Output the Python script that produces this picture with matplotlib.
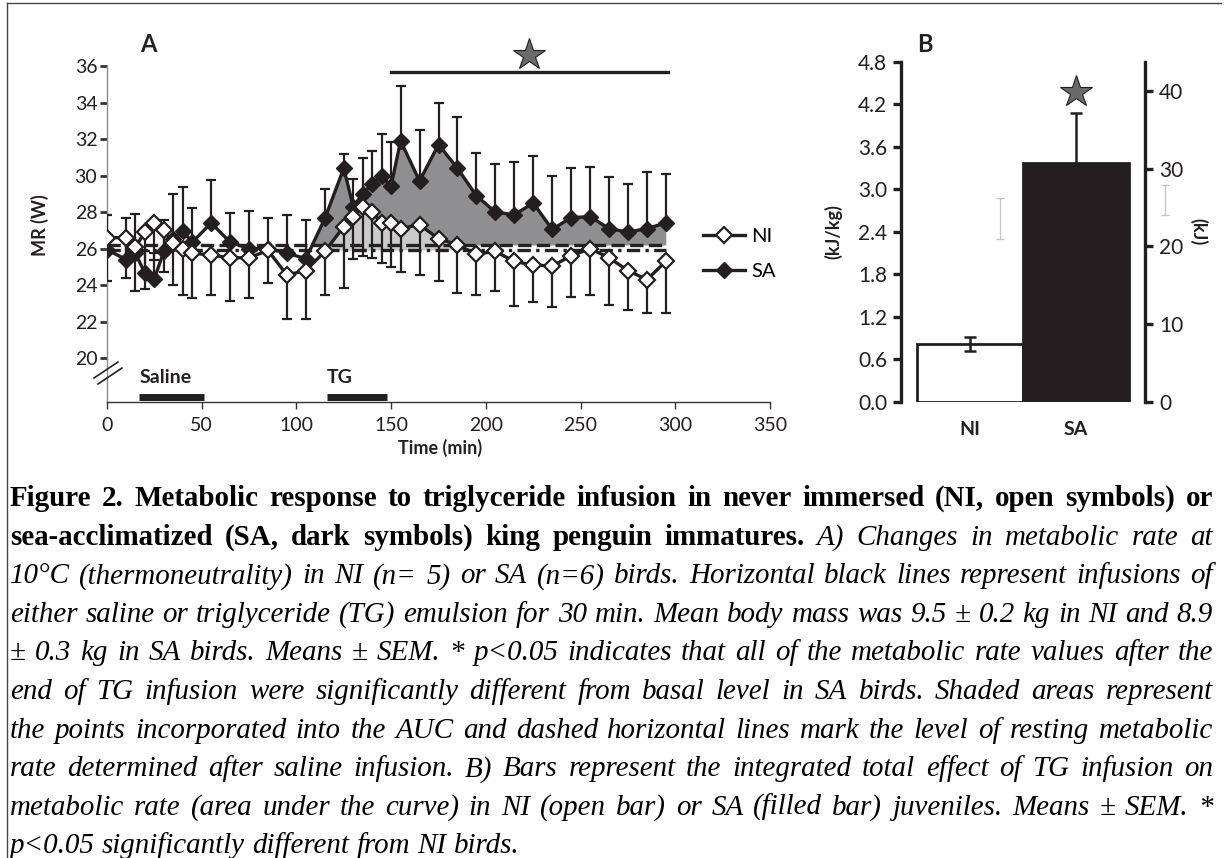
import matplotlib
matplotlib.use('Agg')
import matplotlib.pyplot as plt
import numpy as np
from matplotlib.lines import Line2D

W, H = 1227, 858
plt.rcParams['font.family'] = ['Lato', 'DejaVu Sans']

# ---- panel A data (MR in W) ----
time_min = [0, 10, 15, 20, 25, 30, 35, 40, 45, 55, 65, 75, 85, 95, 105, 115, 125, 130,
            135, 140, 145, 150, 155, 165, 175, 185, 195, 205, 215, 225, 235, 245, 255,
            265, 275, 285, 295]
ni_mean = [26.6, 26.6, 26.1, 26.9, 27.4, 27.0, 26.3, 26.0, 25.75, 25.65, 25.5, 25.5, 25.9,
           24.55, 24.8, 25.85, 27.2, 27.75, 28.3, 28.0, 27.4, 27.4, 27.1, 27.3, 26.55, 26.2,
           25.7, 25.85, 25.3, 25.1, 25.05, 25.6, 26.0, 25.5, 24.8, 24.3, 25.3]
ni_sem = [2.4, 2.2, 2.4, 3.1, 2.0, 2.3, 2.3, 2.55, 2.45, 2.2, 2.35, 2.2, 1.8, 2.4, 2.65,
          2.4, 3.35, 2.3, 2.7, 2.5, 2.2, 2.4, 2.4, 2.75, 2.3, 2.65, 2.25, 2.15, 2.45, 2.05,
          2.25, 2.25, 2.55, 2.6, 2.15, 1.8, 2.8]
sa_mean = [25.95, 25.4, 25.75, 24.65, 24.35, 25.85, 26.5, 26.95, 26.35, 27.4, 26.35, 26.0,
           26.0, 25.75, 25.45, 27.65, 30.4, 28.3, 29.0, 29.55, 29.95, 29.45, 31.9, 29.7,
           31.7, 30.4, 28.9, 28.0, 27.85, 28.5, 27.05, 27.7, 27.75, 27.1, 26.9, 27.1, 27.4]
sa_sem = [1.9, 2.25, 2.15, 1.2, 1.4, 1.7, 2.5, 2.4, 1.85, 2.35, 1.6, 2.05, 1.65, 2.1, 2.1,
          1.6, 0.8, 1.5, 1.95, 1.8, 2.35, 2.4, 3.0, 2.8, 2.3, 2.8, 2.35, 2.65, 2.9, 2.55,
          2.9, 2.7, 2.7, 2.8, 2.65, 3.1, 2.7]
ni_base = 25.9
sa_base = 26.2
auc_start = 105

infusion_labels = ['Saline', 'TG']
infusion_start = [17, 116]
infusion_end = [51, 148]
sig_span = [150, 296]
sig_level = 35.67

# ---- panel B data ----
groups = ['NI', 'SA']
auc_kjkg = [0.81, 3.37]
auc_sem = [0.10, 0.70]
ghost_x = [0.28, 1.84]
ghost_low = [2.30, 2.64]
ghost_len = [0.58, 0.42]

caption_lines = [
    [('b', 'Figure 2. Metabolic response to triglyceride infusion in never immersed (NI, open symbols) or')],
    [('b', 'sea-acclimatized (SA, dark symbols) king penguin immatures.'), ('i', 'A) Changes in metabolic rate at')],
    [('i', '10°C (thermoneutrality) in NI (n= 5) or SA (n=6) birds. Horizontal black lines represent infusions of')],
    [('i', 'either saline or triglyceride (TG) emulsion for 30 min. Mean body mass was 9.5 ± 0.2 kg in NI and 8.9')],
    [('i', '± 0.3 kg in SA birds. Means ± SEM. * p<0.05 indicates that all of the metabolic rate values after the')],
    [('i', 'end of TG infusion were significantly different from basal level in SA birds. Shaded areas represent')],
    [('i', 'the points incorporated into the AUC and dashed horizontal lines mark the level of resting metabolic')],
    [('i', 'rate determined after saline infusion. B) Bars represent the integrated total effect of TG infusion on')],
    [('i', 'metabolic rate (area under the curve) in NI (open bar) or SA (filled bar) juveniles. Means ± SEM. *')],
    [('i', 'p<0.05 significantly different from NI birds.')],
]


def fx(px):
    return px / W


def fy(py):
    return 1 - py / H


fig = plt.figure(figsize=(W / 100, H / 100), dpi=100)

# ---------------- panel A ----------------
axA = fig.add_axes([fx(107), fy(402), fx(770) - fx(107), fy(66) - fy(402)])
t = np.array(time_min, dtype=float)
ni = np.array(ni_mean)
sa = np.array(sa_mean)
m = t >= auc_start
axA.fill_between(t[m], sa_base, sa[m], where=sa[m] > sa_base, interpolate=True,
                 color='#8f8f92', lw=0, zorder=1)
axA.fill_between(t[m], ni_base, ni[m], where=ni[m] > ni_base, interpolate=True,
                 color='#cacaca', lw=0, zorder=1.5)
axA.hlines(sa_base, t[0], t[-1], colors='#222', lw=2.4, linestyles=(0, (4, 1.6)), zorder=2)
axA.hlines(ni_base, t[0], t[-1], colors='#222', lw=2.4, linestyles=(0, (4, 1.6, 1, 1.6)), zorder=2)

zeros = np.zeros_like(t)
axA.errorbar(t, sa, yerr=[zeros, sa_sem], fmt='none', ecolor='#231f20', elinewidth=1.6,
             capsize=3.8, capthick=1.6, zorder=3)
axA.errorbar(t, ni, yerr=[ni_sem, zeros], fmt='none', ecolor='#231f20', elinewidth=1.6,
             capsize=3.8, capthick=1.6, zorder=3)
axA.plot(t, sa, color='#231f20', lw=2.4, marker='D', ms=8.5, mfc='#231f20', mec='#231f20',
         zorder=4)
axA.plot(t, ni, color='#231f20', lw=2.4, marker='D', ms=8.5, mfc='white', mec='#231f20',
         mew=1.6, zorder=5)

# infusion bars
for lab, s, e in zip(infusion_labels, infusion_start, infusion_end):
    axA.plot([s, e], [17.85, 17.85], color='#231f20', lw=5, solid_capstyle='butt',
             clip_on=False, zorder=6)
    axA.text(s, 18.95, lab, fontsize=14, fontweight='bold', ha='left', va='center',
             color='#231f20')

# significance
axA.plot(sig_span, [sig_level, sig_level], color='#231f20', lw=2.4, clip_on=False)
axA.plot(np.mean(sig_span), 36.6, marker='*', ms=24, mfc='#6a6a6a', mec='#231f20', mew=0.8,
         clip_on=False)

axA.set_xlim(0, 350)
axA.set_ylim(17.6, 36)
axA.set_xticks(range(0, 351, 50))
axA.set_yticks(range(20, 37, 2))
for s in ['top', 'right']:
    axA.spines[s].set_visible(False)
axA.spines['left'].set_color('#8a8a8a')
axA.spines['left'].set_linewidth(1.0)
axA.spines['bottom'].set_color('#333')
axA.spines['bottom'].set_linewidth(1.0)
axA.tick_params(axis='y', direction='out', length=5, width=2, color='#333', labelsize=14,
                pad=2)
axA.tick_params(axis='x', direction='out', length=5, width=1, color='#333', labelsize=14,
                pad=6)
for tl in axA.get_xticklabels() + axA.get_yticklabels():
    tl.set_color('#231f20')

# axis break marks
for dx, dy in [(0, 0), (4, 6)]:
    fig.add_artist(Line2D([fx(94 + dx), fx(118 + dx)], [fy(378 + dy), fy(362 + dy)],
                          color='#222', lw=1.2))

fig.text(fx(148), fy(44), 'A', fontsize=17, fontweight='bold', ha='center', va='center',
         color='#231f20')
fig.text(fx(40), fy(225), 'MR (W)', fontsize=13, fontweight='bold', rotation=90,
         ha='center', va='center', color='#231f20')
fig.text(fx(440), fy(448), 'Time (min)', fontsize=13, fontweight='bold', ha='center',
         va='center', color='#231f20')

handles = [Line2D([], [], color='#231f20', lw=2.4, marker='D', ms=8.5, mfc='white',
                  mec='#231f20', mew=1.6),
           Line2D([], [], color='#231f20', lw=2.4, marker='D', ms=8.5, mfc='#231f20',
                  mec='#231f20')]
fig.legend(handles, ['NI', 'SA'], loc='center left', bbox_to_anchor=(fx(703), fy(254)),
           frameon=False, fontsize=14.5, handlelength=2.1, handletextpad=0.3,
           labelspacing=0.85, borderpad=0, borderaxespad=0)

# ---------------- panel B ----------------
axB = fig.add_axes([fx(901), fy(401.7), fx(1145) - fx(901), fy(61.7) - fy(401.7)])
xb = np.arange(len(groups))
axB.bar(xb, auc_kjkg, width=1.0, color=['white', '#231f20'], edgecolor='#231f20', lw=2,
        zorder=2)
axB.errorbar(xb, auc_kjkg, yerr=auc_sem, fmt='none', ecolor='#231f20', elinewidth=1.8,
             capsize=4, capthick=1.8, zorder=3)
gh = axB.errorbar(ghost_x, ghost_low, yerr=[np.zeros(2), ghost_len], fmt='none',
                  ecolor='#c4c4c4', elinewidth=0.9, capsize=3, capthick=0.9, zorder=1)
for art in gh.lines[1] + gh.lines[2]:
    art.set_clip_on(False)
axB.plot(xb[1], auc_kjkg[1] + auc_sem[1] + 0.3, marker='*', ms=24, mfc='#6a6a6a',
         mec='#231f20', mew=0.8, clip_on=False, zorder=4)
axB.set_xlim(-0.65, 1.65)
axB.set_ylim(0, 4.8)
axB.set_yticks(np.arange(0, 4.81, 0.6))
axB.set_yticklabels([f'{v:.1f}' for v in np.arange(0, 4.81, 0.6)])
axB.set_xticks(xb)
axB.set_xticklabels(groups, fontweight='bold', fontsize=14, color='#231f20')
for s in ['top', 'right', 'bottom']:
    axB.spines[s].set_visible(False)
axB.spines['left'].set_linewidth(2.4)
axB.spines['left'].set_color('#231f20')
axB.tick_params(axis='y', direction='out', length=6, width=2.4, color='#231f20',
                labelsize=15, labelcolor='#231f20', pad=4)
axB.tick_params(axis='x', length=0, pad=14)
axB2 = axB.twinx()
axB2.set_ylim(0, 43.8)
axB2.set_yticks(range(0, 41, 10))
for s in ['top', 'left', 'bottom']:
    axB2.spines[s].set_visible(False)
axB2.spines['right'].set_linewidth(2.4)
axB2.spines['right'].set_color('#231f20')
axB2.tick_params(axis='y', direction='out', length=6, width=2.4, color='#231f20',
                 labelsize=15, labelcolor='#231f20', pad=4)

fig.text(fx(925), fy(45), 'B', fontsize=17, fontweight='bold', ha='center', va='center',
         color='#231f20')
fig.text(fx(833), fy(232), '(kJ/kg)', fontsize=13, fontweight='bold', rotation=90,
         ha='center', va='center', color='#231f20')
fig.text(fx(1198), fy(232), '(kJ)', fontsize=13, fontweight='bold', rotation=270,
         ha='center', va='center', color='#231f20')

# ---------------- border ----------------
fig.add_artist(Line2D([fx(7), fx(7)], [0, fy(3)], color='#444', lw=1.0))
fig.add_artist(Line2D([fx(7), fx(1221)], [fy(3), fy(3)], color='#444', lw=1.0))

# ---------------- justified caption ----------------
renderer = fig.canvas.get_renderer()
left_px, right_px = 10, 1213
avail = right_px - left_px


def caption_words(line):
    out = []
    for style, seg in line:
        for w in seg.split(' '):
            if w:
                out.append((style, w))
    return out


def put_word(x, y, word, style, size):
    return fig.text(fx(x), fy(y), word, fontsize=size, family='Liberation Serif',
                    fontweight='bold' if style == 'b' else 'normal',
                    fontstyle='italic' if style == 'i' else 'normal',
                    ha='left', va='baseline')


# pick the size so the widest line fits
trial = 10
widest = 0
for line in caption_lines:
    words = caption_words(line)
    tmp = [put_word(0, 0, w, s, trial) for s, w in words]
    wsum = sum(tx.get_window_extent(renderer).width for tx in tmp)
    wsum += (len(words) - 1) * 0.25 * trial * 100 / 72
    widest = max(widest, wsum)
    for tx in tmp:
        tx.remove()
cap_size = trial * avail * 0.99 / widest

first_base, step = 506, 38.6
for i, line in enumerate(caption_lines):
    words = caption_words(line)
    y = first_base + i * step
    texts = [put_word(0, y, w, s, cap_size) for s, w in words]
    widths = [tx.get_window_extent(renderer).width for tx in texts]
    if i < len(caption_lines) - 1:
        gap = (avail - sum(widths)) / (len(words) - 1)
    else:
        gap = 0.25 * cap_size * 100 / 72
    x = left_px
    for tx, wd in zip(texts, widths):
        tx.set_x(fx(x))
        x += wd + gap

fig.savefig('out.png', dpi=100)
